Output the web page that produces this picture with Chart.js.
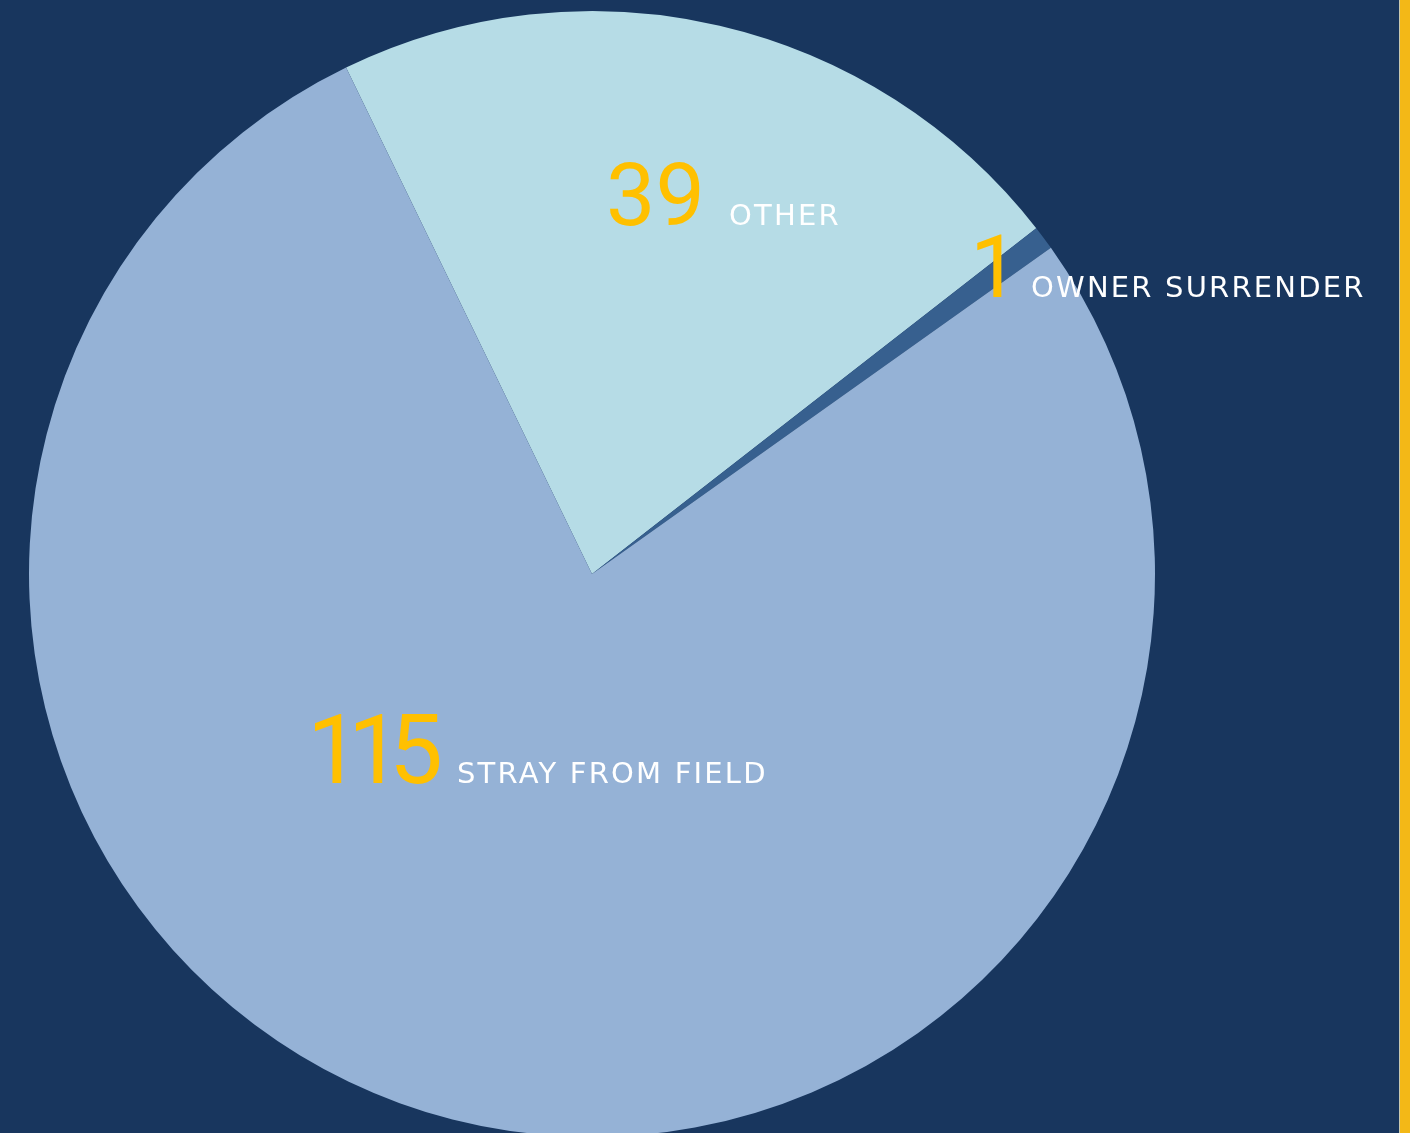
<!DOCTYPE html>
<html>
<head>
<meta charset="utf-8">
<script src="https://cdn.jsdelivr.net/npm/chart.js@4.4.1/dist/chart.umd.min.js"></script>
<style>
  html, body { margin:0; padding:0; width:1410px; height:1133px; overflow:hidden; background:#18365E; }
  #bar { position:absolute; left:1399px; top:0; width:11px; height:1133px; background:#F3B817; border-left:1px solid #c9c9b0; box-sizing:border-box; z-index:2; }
  #wrap { position:absolute; left:0; top:0; width:1410px; height:1150px; }
</style>
</head>
<body>
<div id="wrap"><canvas id="c"></canvas></div>
<div id="bar"></div>
<script>
// Categories and counts shown in the labels
const categories = ["OTHER", "OWNER SURRENDER", "STRAY FROM FIELD"];
const counts = [39, 1, 115];
// Slice sizes as drawn in the picture (degrees of the circle)
const sliceShares = [78.0, 2.5, 279.5];
const sliceColors = ["#B6DCE6", "#37608F", "#95B2D6"];

const labelPlugin = {
  id: 'labels',
  afterDraw(chart) {
    const ctx = chart.ctx;
    const arc = chart.getDatasetMeta(0).data[0];
    const cx = arc.x, cy = arc.y;
    // ink-left positions relative to the pie centre, baseline offset
    const anchors = [
      { nx: 610 - 592, lx: 730 - 592, by: 225 - 574, ns: 88, ls: 29, nsp: 0 },
      { nx: 977 - 592, lx: 1032 - 592, by: 297 - 574, ns: 88, ls: 29, nsp: 0 },
      { nx: 315 - 592, lx: 458 - 592, by: 783 - 574, ns: 96, ls: 29, nsp: -13 }
    ];
    ctx.save();
    ctx.textBaseline = 'alphabetic';
    ctx.textAlign = 'left';
    const drawInk = (txt, x, y) => {
      const m = ctx.measureText(txt);
      ctx.fillText(txt, x + m.actualBoundingBoxLeft, y);
    };
    categories.forEach((cat, i) => {
      const a = anchors[i];
      ctx.fillStyle = '#FFC000';
      ctx.font = `400 ${a.ns}px Roboto`;
      ctx.letterSpacing = a.nsp + 'px';
      drawInk(String(counts[i]), cx + a.nx, cy + a.by);
      ctx.fillStyle = '#FFFFFF';
      ctx.font = `400 ${a.ls}px "DejaVu Sans"`;
      ctx.letterSpacing = '2.2px';
      drawInk(cat, cx + a.lx, cy + a.by);
    });
    ctx.restore();
  }
};

new Chart(document.getElementById('c'), {
  type: 'pie',
  data: {
    labels: categories,
    datasets: [{ data: sliceShares, backgroundColor: sliceColors, borderWidth: 0 }]
  },
  options: {
    responsive: true,
    maintainAspectRatio: false,
    animation: false,
    rotation: -25.9,
    layout: { padding: { left: 29, top: 11, right: 255, bottom: 13 } },
    plugins: { legend: { display: false }, tooltip: { enabled: false } }
  },
  plugins: [labelPlugin]
});
</script>
</body>
</html>
